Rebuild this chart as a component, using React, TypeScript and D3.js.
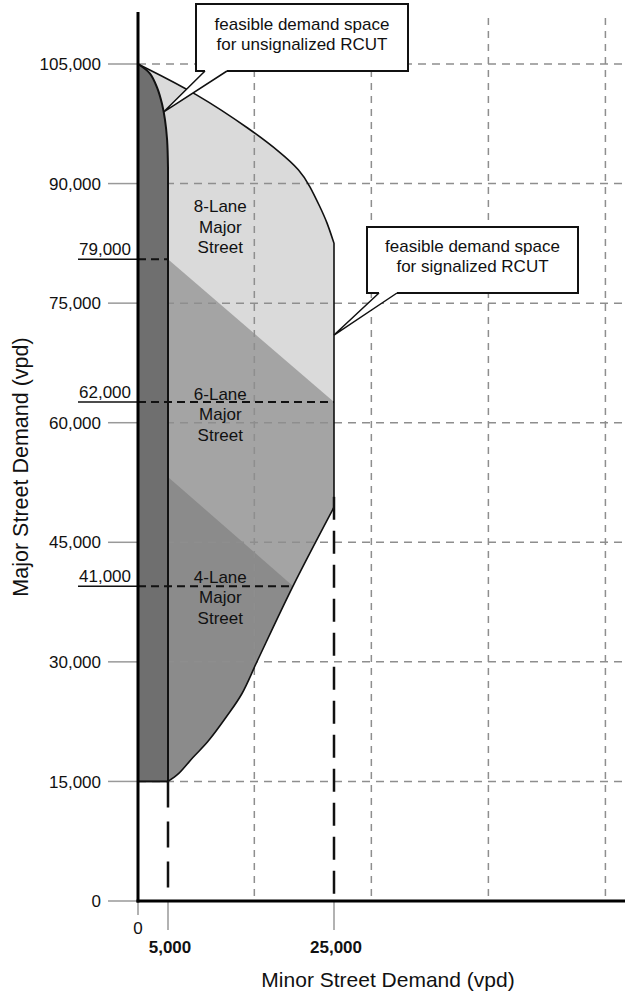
import React from 'react';
import * as d3 from 'd3';

// ---- data (vpd) ----
const yTicks = [0, 15000, 30000, 45000, 60000, 75000, 90000, 105000];
const xTicks = [0, 5000, 25000];
const xTickBold = [false, true, true];
const gridX = [15400, 29500, 43600, 57700];

// signalized RCUT feasible space, upper boundary (minor, major)
const signalTop: [number, number][] = [
  [0, 105000], [8500, 101300], [15200, 96600], [18500, 93950], [20900, 91700],
  [22100, 89700], [23300, 87100], [24150, 85200], [25000, 82500],
];
// signalized RCUT feasible space, lower boundary
const signalBottom: [number, number][] = [
  [25000, 49400], [20060, 39500], [15800, 30200], [13900, 26000],
  [12100, 23200], [9800, 20000], [8000, 18000], [6300, 16000], [5000, 15000],
];
// unsignalized RCUT feasible space, right edge (top part)
const unsignalEdge: [number, number][] = [
  [0, 105000], [2000, 103800], [3200, 102000], [4000, 100000],
  [4500, 98000], [4850, 95500], [5000, 92000],
];
const unsignalBottom = 15000;
const minorLimitA = 5000;
const minorLimitB = 25000;
const minorLimitBTop = 50700;

const sixLaneTop: [number, number][] = [[5000, 80500], [25000, 62600]];
const fourLaneTop: [number, number][] = [[5000, 53200], [20060, 39500]];

const thresholdLabels = ['79,000', '62,000', '41,000'];
const thresholdAt = [80500, 62600, 39500];
const thresholdEnd = [5000, 25000, 20060];

const regionLines = [
  ['8-Lane', 'Major', 'Street'],
  ['6-Lane', 'Major', 'Street'],
  ['4-Lane', 'Major', 'Street'],
];
const regionLabelAt = [86400, 62850, 39900];
const regionLabelX = 11300;

const calloutTexts = [
  ['feasible demand space', 'for unsignalized RCUT'],
  ['feasible demand space', 'for signalized RCUT'],
];
const calloutTips: [number, number][] = [[4300, 99000], [25000, 71000]];

// ---- layout ----
const W = 625;
const H = 993;
const FONT = '"Liberation Sans", Arial, Helvetica, sans-serif';
const boxes = [
  { x: 196, y: 4, w: 212, h: 67, b0: 205, b1: 227 },
  { x: 367, y: 227, w: 211, h: 66, b0: 379, b1: 397 },
];

export default function App() {
  const x = d3.scaleLinear().domain([0, 5000, 25000]).range([138, 168, 334]);
  const y = d3.scaleLinear().domain([0, 105000]).range([901, 64]);
  const axisTop = 12;
  const gridTop = 18;
  const right = W;

  const curveTop = d3
    .line<[number, number]>()
    .x((d) => x(d[0]))
    .y((d) => y(d[1]))
    .curve(d3.curveBasis);
  const curve = d3
    .line<[number, number]>()
    .x((d) => x(d[0]))
    .y((d) => y(d[1]))
    .curve(d3.curveCatmullRom.alpha(0.5));
  const straight = d3
    .line<[number, number]>()
    .x((d) => x(d[0]))
    .y((d) => y(d[1]));

  const topPath = curveTop(signalTop) as string;
  const bottomPath = curve(signalBottom) as string;
  const outline = topPath + bottomPath.replace(/^M/, 'L');
  const region = outline + `L${x(0)},${y(unsignalBottom)}Z`;

  const edgePath = curve(unsignalEdge) as string;
  const darkRegion =
    edgePath + `L${x(minorLimitA)},${y(unsignalBottom)}L${x(0)},${y(unsignalBottom)}Z`;
  const darkStroke = edgePath + `L${x(minorLimitA)},${y(unsignalBottom)}`;

  const ext = (p: [number, number][]) => {
    const s = d3.scaleLinear().domain([p[0][0], p[1][0]]).range([p[0][1], p[1][1]]);
    return s(minorLimitB);
  };
  const midPoly: [number, number][] = [
    sixLaneTop[0], [minorLimitB, ext(sixLaneTop)], [minorLimitB, 0], [minorLimitA, 0],
  ];
  const lowPoly: [number, number][] = [
    fourLaneTop[0], [minorLimitB, ext(fourLaneTop)], [minorLimitB, 0], [minorLimitA, 0],
  ];

  return (
    <svg
      width={W}
      height={H}
      style={{ position: 'absolute', left: 0, top: 0, background: '#fff' }}
      fontFamily={FONT}
    >
      <defs>
        <clipPath id="sig">
          <path d={region} />
        </clipPath>
      </defs>

      {/* fills */}
      <path d={region} fill="#dadada" />
      <g clipPath="url(#sig)">
        <path d={straight(midPoly) + 'Z'} fill="#a4a4a4" />
        <path d={straight(lowPoly) + 'Z'} fill="#8b8b8b" />
      </g>

      {/* grid */}
      {yTicks.filter((t) => t > 0).map((t) => (
        <line key={'gy' + t} x1={x(0)} x2={right} y1={y(t)} y2={y(t)}
          stroke="#8e8e8e" strokeWidth={1.5} strokeDasharray="8 6" />
      ))}
      {gridX.map((g) => (
        <line key={'gx' + g} x1={x(g)} x2={x(g)} y1={gridTop} y2={y(0)}
          stroke="#8e8e8e" strokeWidth={1.5} strokeDasharray="7 6" />
      ))}

      {/* unsignalized dark band */}
      <path d={darkRegion} fill="#6f6f6f" />

      {/* boundaries */}
      <path d={outline} fill="none" stroke="#111" strokeWidth={1.6} />
      <path d={darkStroke} fill="none" stroke="#111" strokeWidth={2} />
      <line x1={x(0)} x2={x(minorLimitA)} y1={y(unsignalBottom)} y2={y(unsignalBottom)}
        stroke="#111" strokeWidth={2} />
      <line x1={x(minorLimitA)} x2={x(minorLimitA)} y1={y(unsignalBottom)} y2={y(0)}
        stroke="#111" strokeWidth={2.5} strokeDasharray="26 14" />
      <line x1={x(minorLimitB)} x2={x(minorLimitB)} y1={y(minorLimitBTop)} y2={y(0)}
        stroke="#111" strokeWidth={2.5} strokeDasharray="23 11" />

      {/* thresholds */}
      {thresholdLabels.map((lab, i) => (
        <g key={lab}>
          <line x1={78} x2={x(0)} y1={y(thresholdAt[i])} y2={y(thresholdAt[i])}
            stroke="#111" strokeWidth={1.5} />
          <line x1={x(0)} x2={x(thresholdEnd[i])} y1={y(thresholdAt[i])} y2={y(thresholdAt[i])}
            stroke="#111" strokeWidth={2} strokeDasharray="8 5" />
          <text x={79} y={y(thresholdAt[i]) - 4} fontSize={17} fill="#111">{lab}</text>
        </g>
      ))}

      {/* region labels */}
      {regionLines.map((lines, i) => (
        <text key={'r' + i} x={x(regionLabelX)} y={y(regionLabelAt[i])} fontSize={17}
          fill="#111" textAnchor="middle">
          {lines.map((l, j) => (
            <tspan key={j} x={x(regionLabelX)} dy={j === 0 ? 0 : 20.5}>{l}</tspan>
          ))}
        </text>
      ))}

      {/* axes */}
      {yTicks.map((t) => (
        <g key={'ty' + t}>
          <line x1={108} x2={x(0)} y1={y(t)} y2={y(t)} stroke="#999" strokeWidth={1.5} />
          <text x={101} y={y(t)} dy="0.36em" fontSize={17} textAnchor="end" fill="#111">
            {d3.format(',')(t)}
          </text>
        </g>
      ))}
      {xTicks.map((t, i) => (
        <g key={'tx' + t}>
          <line x1={x(t)} x2={x(t)} y1={y(0)} y2={i === 0 ? y(0) + 14 : y(0) + 29}
            stroke="#999" strokeWidth={1.5} />
          <text x={i === 0 ? x(t) : x(t) + 2} y={i === 0 ? 934 : 953} fontSize={17}
            fontWeight={xTickBold[i] ? 'bold' : 'normal'} textAnchor="middle" fill="#111">
            {d3.format(',')(t)}
          </text>
        </g>
      ))}
      <line x1={x(0)} x2={x(0)} y1={axisTop} y2={y(0) + 1.5} stroke="#000" strokeWidth={3} />
      <line x1={x(0) - 1.5} x2={right} y1={y(0)} y2={y(0)} stroke="#000" strokeWidth={3} />

      <text x={388} y={987} fontSize={21} textAnchor="middle" fill="#111">
        Minor Street Demand (vpd)
      </text>
      <text transform="translate(28,467) rotate(-90)" fontSize={21.5} textAnchor="middle" fill="#111">
        Major Street Demand (vpd)
      </text>

      {/* callouts */}
      {boxes.map((b, i) => {
        const tx = x(calloutTips[i][0]);
        const ty = y(calloutTips[i][1]);
        const yb = b.y + b.h;
        return (
          <g key={'c' + i}>
            <rect x={b.x} y={b.y} width={b.w} height={b.h} fill="#fff" stroke="#111" strokeWidth={2} />
            <polygon
              points={`${b.b0},${yb - 1.2} ${b.b1},${yb - 1.2} ${b.b1},${yb} ${tx},${ty} ${b.b0},${yb}`}
              fill="#fff" />
            <polyline points={`${b.b0},${yb} ${tx},${ty} ${b.b1},${yb}`} fill="none"
              stroke="#111" strokeWidth={1.5} />
            {calloutTexts[i].map((l, j) => (
              <text key={j} x={b.x + b.w / 2} y={b.y + (i === 0 ? 26 : 25) + j * 20}
                fontSize={17} textAnchor="middle" fill="#111">{l}</text>
            ))}
          </g>
        );
      })}
    </svg>
  );
}
